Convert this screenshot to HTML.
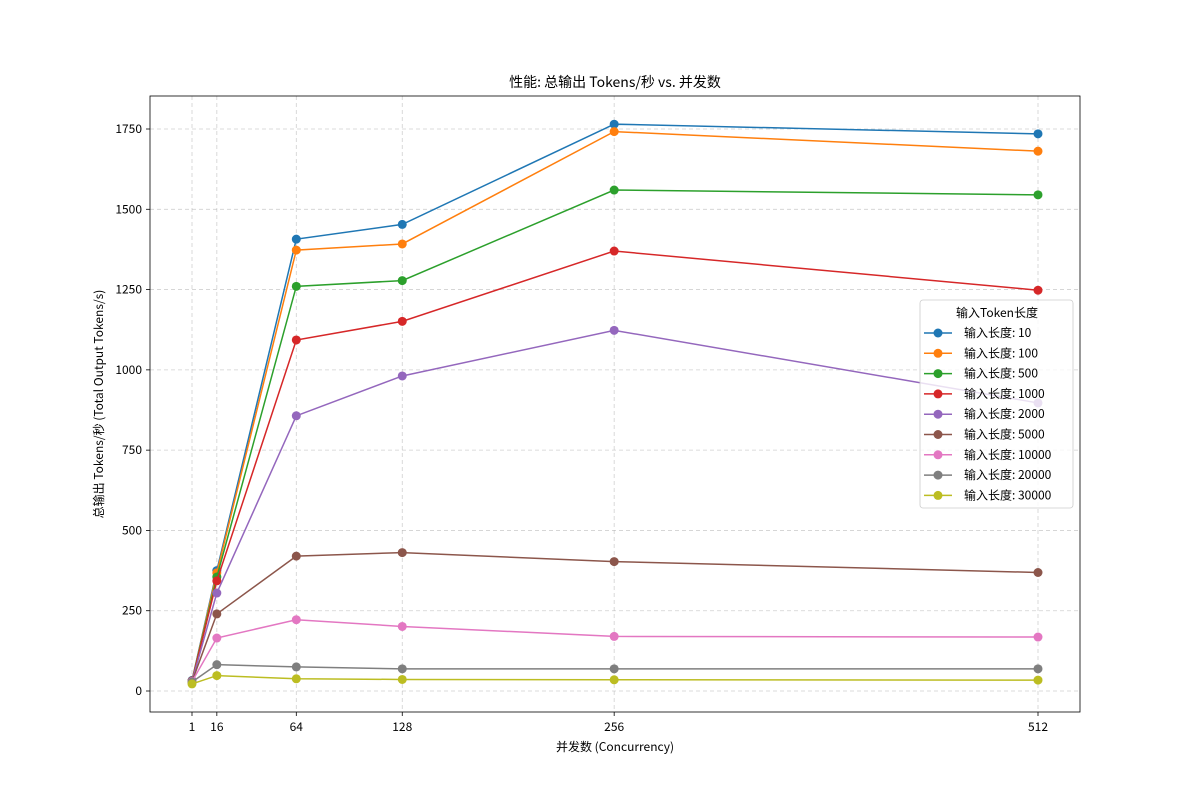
<!DOCTYPE html>
<html><head><meta charset="utf-8"><style>
body{margin:0;background:#fff}
svg text{font-family:"WenQuanYi Zen Hei","Noto Sans CJK SC",sans-serif;fill:#000}
</style></head><body>
<svg id="s" width="1200" height="800" xmlns="http://www.w3.org/2000/svg"></svg>
<script>
const s=document.getElementById('s');
const X=v=>192+(v-1)*846/511, Y=v=>691-v*0.32114;
const xs=[1,16,64,128,256,512];
const data=[
["#1f77b4","10",[33,375,1407,1453,1765,1735]],
["#ff7f0e","100",[31,368,1373,1392,1742,1681]],
["#2ca02c","500",[31,355,1260,1278,1560,1545]],
["#d62728","1000",[31,343,1093,1151,1370,1248]],
["#9467bd","2000",[30,305,857,981,1123,897]],
["#8c564b","5000",[29,240,420,431,403,369]],
["#e377c2","10000",[29,165,222,201,170,168]],
["#7f7f7f","20000",[28,82,75,69,69,69]],
["#bcbd22","30000",[22,48,38,36,35,34]]];
let h='';
h+='<rect x="150" y="96" width="930" height="616" fill="#fff"/>';
xs.forEach(v=>{h+=`<line x1="${X(v)}" y1="96" x2="${X(v)}" y2="712" stroke="#b0b0b0" stroke-opacity=".6" stroke-dasharray="4,3" stroke-width="0.8"/>`;
h+=`<line x1="${X(v)}" y1="712" x2="${X(v)}" y2="716" stroke="#000" stroke-width="0.8"/><text x="${X(v)}" y="731" font-size="12" text-anchor="middle">${v}</text>`;});
[0,250,500,750,1000,1250,1500,1750].forEach(v=>{h+=`<line x1="150" y1="${Y(v)}" x2="1080" y2="${Y(v)}" stroke="#b0b0b0" stroke-opacity=".6" stroke-dasharray="4,3" stroke-width="0.8"/>`;
h+=`<line x1="146" y1="${Y(v)}" x2="150" y2="${Y(v)}" stroke="#000" stroke-width="0.8"/><text x="142" y="${Y(v)+4}" font-size="12" text-anchor="end">${v}</text>`;});
data.forEach(([c,n,d])=>{const p=d.map((v,i)=>X(xs[i])+','+Y(v)).join(' ');
h+=`<polyline points="${p}" fill="none" stroke="${c}" stroke-width="1.5"/>`;
d.forEach((v,i)=>h+=`<circle cx="${X(xs[i])}" cy="${Y(v)}" r="4.5" fill="${c}"/>`);});
h+='<rect x="150" y="96" width="930" height="616" fill="none" stroke="#000" stroke-width="0.8"/>';
h+='<text x="615" y="87" font-size="14" text-anchor="middle">性能: 总输出 Tokens/秒 vs. 并发数</text>';
h+='<text x="615" y="751" font-size="12" text-anchor="middle">并发数 (Concurrency)</text>';
h+='<text transform="translate(103,404) rotate(-90)" font-size="12" text-anchor="middle">总输出 Tokens/秒 (Total Output Tokens/s)</text>';
h+='<rect x="920" y="300" width="153" height="208" rx="3" fill="#fff" fill-opacity=".8" stroke="#ccc" stroke-width="0.8"/>';
h+='<text x="997" y="317" font-size="12" text-anchor="middle">输入Token长度</text>';
data.forEach(([c,n],i)=>{const y=333+i*20.3;
h+=`<line x1="924" y1="${y}" x2="952" y2="${y}" stroke="${c}" stroke-width="1.5"/><circle cx="938" cy="${y}" r="4.5" fill="${c}"/>`;
h+=`<text x="964" y="${y+4}" font-size="12">输入长度: ${n}</text>`;});
s.innerHTML=h;
</script>
</body></html>
